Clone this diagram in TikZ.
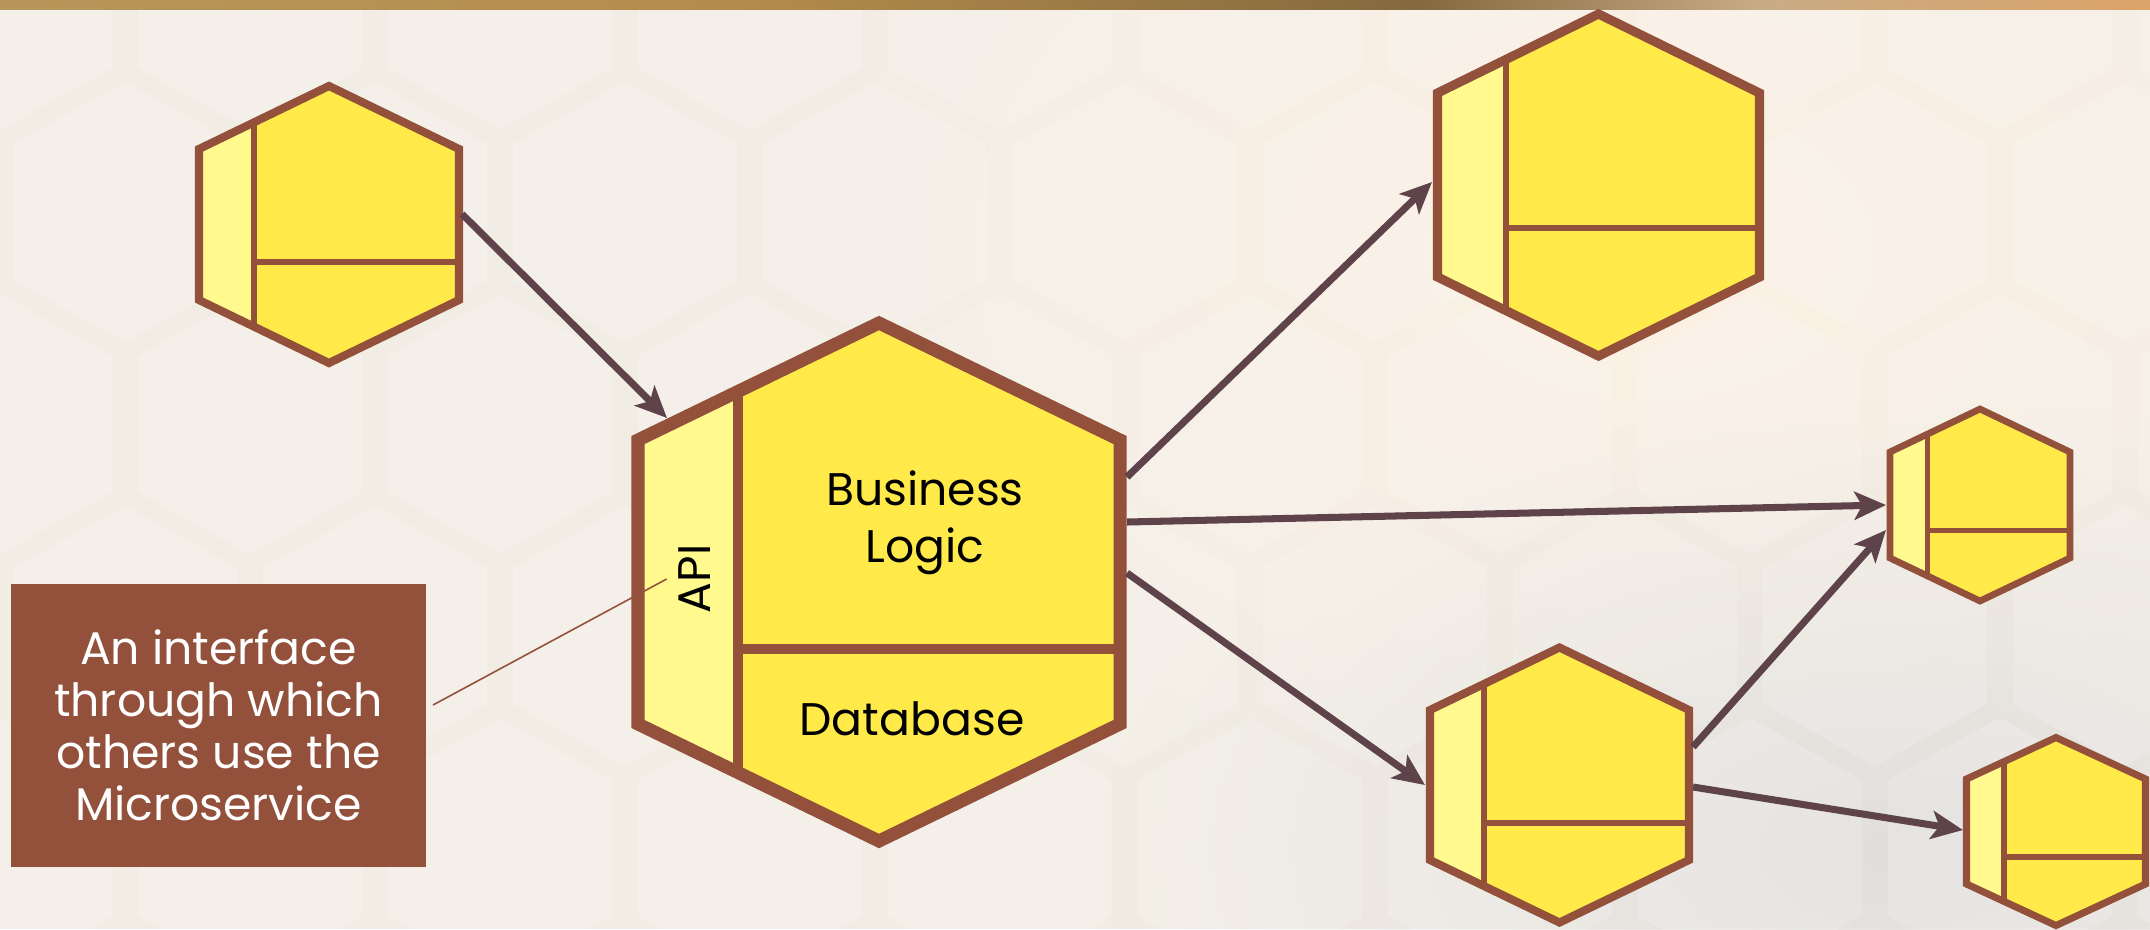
\documentclass[tikz,border=0pt]{standalone}
\usepackage{fontspec}
\setmainfont{Poppins}
\usetikzlibrary{arrows.meta,fadings}

\definecolor{hexbrown}{HTML}{93503A}
\definecolor{hexfill}{HTML}{FFEA4A}
\definecolor{hexapi}{HTML}{FFF98E}
\definecolor{arrowbrown}{HTML}{5F434A}
\definecolor{bgcream}{HTML}{F2EDE4}
\definecolor{bgpeach}{HTML}{FCF1E4}
\definecolor{bggray}{HTML}{E1DFDD}
\definecolor{stripa}{HTML}{C0A472}
\definecolor{stripb}{HTML}{B38D4C}
\definecolor{stripc}{HTML}{85693E}
\definecolor{stripd}{HTML}{C9AB84}
\definecolor{stripe}{HTML}{DCA266}

\tikzfading[name=softspot, inner color=transparent!0, outer color=transparent!100]
\pgfdeclarehorizontalshading{topstrip}{100bp}{color(0bp)=(stripa); color(42bp)=(stripb); color(58bp)=(stripc); color(66bp)=(stripd); color(76bp)=(stripe); color(100bp)=(stripe)}

\tikzset{
  hextext/.style={font=\fontsize{13}{16.2}\selectfont, align=center, text=black},
  notebox/.style={fill=hexbrown, text=white, minimum width=4.15cm, minimum height=2.83cm,
    align=center, inner sep=0pt, font=\fontsize{13}{14.8}\selectfont},
  flow/.style={draw=arrowbrown, line width=2pt, -{Stealth[length=9pt,width=8pt,inset=2.2pt]}},
  leader/.style={draw=hexbrown, line width=0.45pt},
  bgtile/.style={fill=white, fill opacity=0.16},
}

% centre x, centre y, half width, half side, tip, api x, divider y, border
\newcommand{\hexcell}[8]{%
  \begin{scope}
    \clip (#1,#2-#4-#5) -- (#1+#3,#2-#4) -- (#1+#3,#2+#4) -- (#1,#2+#4+#5)
      -- (#1-#3,#2+#4) -- (#1-#3,#2-#4) -- cycle;
    \fill[hexfill] (#1-#3,#2-#4-#5) rectangle (#1+#3,#2+#4+#5);
    \fill[hexapi] (#1-#3,#2-#4-#5) rectangle (#6,#2+#4+#5);
    \draw[hexbrown,line width=0.75*#8] (#6,#2-#4-#5) -- (#6,#2+#4+#5);
    \draw[hexbrown,line width=0.75*#8] (#6,#7) -- (#1+#3,#7);
  \end{scope}
  \draw[hexbrown,line width=#8,line join=miter] (#1,#2-#4-#5) -- (#1+#3,#2-#4)
    -- (#1+#3,#2+#4) -- (#1,#2+#4+#5) -- (#1-#3,#2+#4) -- (#1-#3,#2-#4) -- cycle;
}
\newcommand{\hextile}[2]{%
  \fill[bgtile] (#1,#2-130) -- (#1+112,#2-68) -- (#1+112,#2+68) -- (#1,#2+130)
    -- (#1-112,#2+68) -- (#1-112,#2-68) -- cycle;
}

\begin{document}
\begin{tikzpicture}[x=0.01cm,y=-0.01cm]

\useasboundingbox (0,0) rectangle (2150,929);
\clip (0,0) rectangle (2150,929);

%=== Hintergrund ===
\fill[bgcream] (0,0) rectangle (2150,929);
\fill[bgpeach,path fading=softspot] (1650,250) ellipse (900 and 600);
\fill[bggray,path fading=softspot] (1900,850) ellipse (800 and 450);
\foreach \row in {0,...,5}{
  \foreach \col in {0,...,9}{
    \pgfmathsetmacro\tx{\col*250+mod(\row,2)*125}
    \pgfmathsetmacro\ty{\row*212}
    \hextile{\tx}{\ty}
  }
}
\shade[shading=topstrip] (0,0) rectangle (2150,9);

%=== Microservices ===
\hexcell{879}{582}{241}{142}{117}{738}{649}{3.7pt}
\hexcell{329}{224.5}{130}{75.5}{63}{254}{262}{2.3pt}
\hexcell{1598.5}{185}{161}{92}{79}{1506}{228}{2.6pt}
\hexcell{1980}{505}{90}{53}{43}{1927}{530}{1.9pt}
\hexcell{1559.5}{785}{129.5}{75}{62.5}{1484}{823}{2.3pt}
\hexcell{2056}{831.5}{89.5}{52.5}{41.5}{2004}{857}{2pt}

% Beschriftung
\node[hextext] (biz) at (925,523) {Business\\Logic};
\node[hextext] (db) at (912,719) {Database};
\node[hextext,rotate=90] (api) at (695,579) {API};

\node[notebox] (note) at (218.5,725.5)
  {An interface\\through which\\others use the\\Microservice};

% Anschluesse
\coordinate (notetip) at (433,705);
\coordinate (h1r) at (462,214);
\coordinate (mainin) at (667,418);
\coordinate (mainr1) at (1127,477);
\coordinate (mainr2) at (1127,522);
\coordinate (mainr3) at (1127,573);
\coordinate (h2in) at (1432,182);
\coordinate (h3in1) at (1886,505);
\coordinate (h3in2) at (1886,530);
\coordinate (h4in) at (1425,785);
\coordinate (h4r1) at (1693,747);
\coordinate (h4r2) at (1693,787);
\coordinate (h5in) at (1963,830);

\draw[leader] (notetip) -- (api.north);

\draw[flow] (h1r) -- (mainin);
\draw[flow] (mainr1) -- (h2in);
\draw[flow] (mainr2) -- (h3in1);
\draw[flow] (mainr3) -- (h4in);
\draw[flow] (h4r1) -- (h3in2);
\draw[flow] (h4r2) -- (h5in);

\end{tikzpicture}
\end{document}
